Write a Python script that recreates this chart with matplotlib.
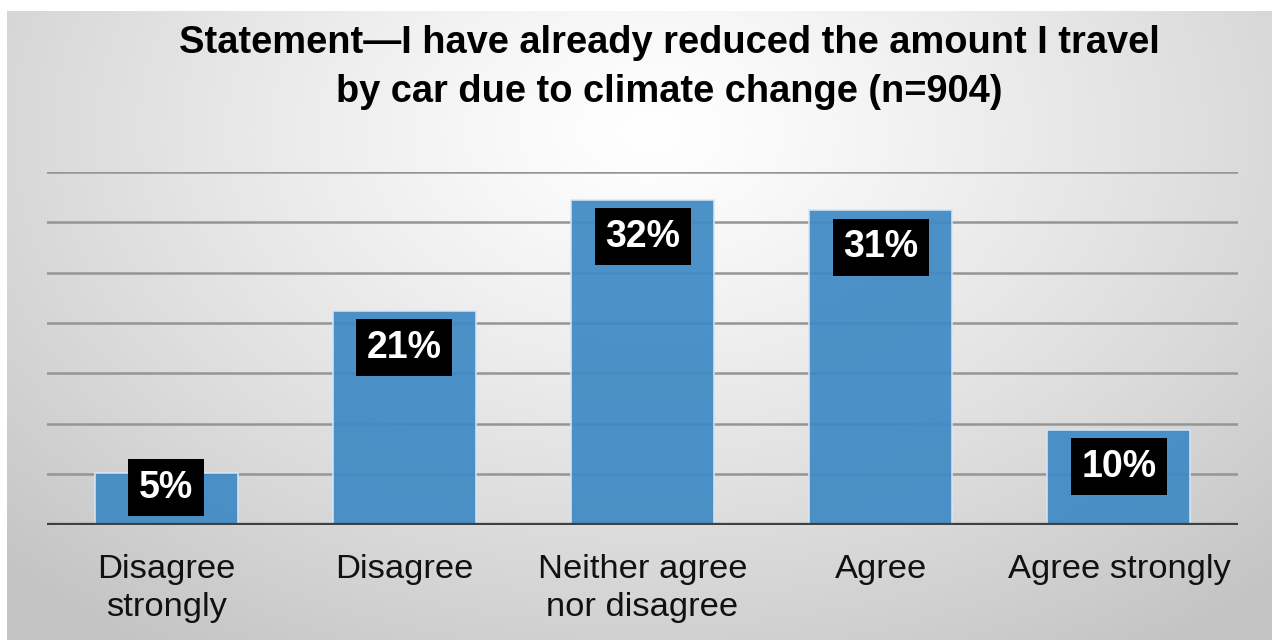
import numpy as np
import matplotlib
matplotlib.use("Agg")
import matplotlib.pyplot as plt

# ---- data ----
categories = ["Disagree\nstrongly", "Disagree", "Neither agree\nnor disagree", "Agree", "Agree strongly"]
values = [5.1, 21.2, 32.2, 31.2, 9.4]
value_labels = ["5%", "21%", "32%", "31%", "10%"]
title = "Statement\u2014I have already reduced the amount I travel\nby car due to climate change (n=904)"

plt.rcParams['font.family'] = ['Liberation Sans', 'DejaVu Sans']

W, H = 1272, 641
fig = plt.figure(figsize=(W / 100, H / 100), dpi=100)
fig.patch.set_facecolor('white')

# background panel with radial gradient
bg = fig.add_axes([7 / W, 1 / H, (W - 7) / W, (640 - 11) / H], zorder=-10)
ny, nx = 315, 632
yy, xx = np.mgrid[0:ny, 0:nx]
px = 7 + xx * (W - 7) / nx
py = 11 + yy * 629 / ny
r = np.sqrt(((px - 650) / 900) ** 2 + ((py - 130) / 620) ** 2)
r = np.clip(r, 0, 1)
lv = 1.0 - 0.23 * r ** 1.2
img = np.dstack([lv, lv, lv])
bg.imshow(img, aspect='auto', extent=[0, 1, 0, 1], origin='upper', interpolation='bilinear')
bg.set_xlim(0, 1)
bg.set_ylim(0, 1)
bg.axis('off')

ax = fig.add_axes([47 / W, 1 - 524.5 / H, (1238 - 47) / W, (524.5 - 172) / H])
ax.patch.set_alpha(0)
x = np.arange(len(categories))
ax.bar(x, values, width=0.6, color='#3f8ac4', edgecolor='#d8e6f2', linewidth=1.2, alpha=0.93, zorder=3)
ax.set_xlim(-0.5, len(categories) - 0.5)
ax.set_ylim(0, 35)
ax.set_yticks(np.arange(0, 36, 5))
ax.yaxis.grid(True, color='#959595', linewidth=1.8, zorder=1)
ax.set_axisbelow(True)
ax.tick_params(axis='y', left=False, labelleft=False)
for s in ax.spines.values():
    s.set_visible(False)
ax.axhline(0, color='#404040', linewidth=3.8, zorder=5)
ax.set_xticks(x)
ax.set_xticklabels(categories, fontsize=24.8, color='#111111', linespacing=1.3)
ax.tick_params(axis='x', length=0, pad=21)

for xi, v, lab in zip(x, values, value_labels):
    yc = max(v - 3.65, 3.65)
    ax.text(xi, yc, lab, ha='center', va='center', color='white', fontsize=27,
            fontweight='bold', zorder=6,
            bbox=dict(boxstyle='square,pad=0.28', fc='black', ec='none'))

fig.text(669 / W, 1 - 25 / H, title, ha='center', va='top', fontsize=27.4,
         fontweight='bold', color='black', linespacing=1.45)

fig.savefig('out.png', dpi=100)
